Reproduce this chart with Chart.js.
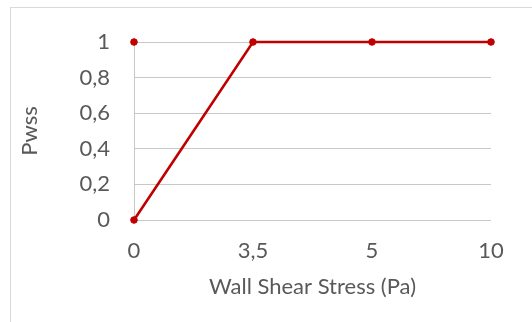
<!DOCTYPE html>
<html><head><meta charset="utf-8">
<script src="https://cdn.jsdelivr.net/npm/chart.js@4/dist/chart.umd.min.js"></script>
<style>
html,body{margin:0;padding:0;background:#fff;}
#frame{position:absolute;left:10px;top:7px;width:540px;height:330px;border:1px solid #d9d9d9;box-sizing:border-box;}
#wrap{position:absolute;left:0;top:0;width:532px;height:322px;}
</style></head>
<body>
<div id="frame"></div>
<div id="wrap"><canvas id="c" width="532" height="322"></canvas></div>
<script>
const categories = ["0", "3,5", "5", "10"];
const pwssValues = [0, 1, 1, 1];
const extraPoint = [1, null, null, null];
const yTickValues = [0, 0.2, 0.4, 0.6, 0.8, 1];
const xTitle = "Wall Shear Stress (Pa)";
const yTitle = "Pwss";

const FONT = "Lato, 'Open Sans', sans-serif";
const TEXT = "#595959";
const RED = "#c00000";

new Chart(document.getElementById('c'), {
  type: 'line',
  data: {
    labels: categories,
    datasets: [
      {data: pwssValues, borderColor: RED, backgroundColor: RED, borderWidth: 2.6, clip: false,
       pointRadius: 3.3, pointBorderWidth: 1, pointBackgroundColor: RED, pointBorderColor: RED, tension: 0},
      {data: extraPoint, showLine: false, borderColor: RED, backgroundColor: RED, clip: false,
       pointRadius: 3.3, pointBorderWidth: 1, pointBackgroundColor: RED, pointBorderColor: RED}
    ]
  },
  options: {
    responsive: false,
    animation: false,
    layout: {padding: {left: 17, right: 41, top: 42, bottom: 22}},
    plugins: {legend: {display: false}, tooltip: {enabled: false}},
    scales: {
      x: {
        offset: false,
        grid: {display: false, drawTicks: false},
        border: {display: false},
        ticks: {color: TEXT, font: {family: FONT, size: 22}, padding: 18, maxRotation: 0},
        title: {display: true, text: xTitle, color: TEXT, font: {family: FONT, size: 22}, padding: {top: 4, bottom: 0}},
        afterFit: s => { s.height = 80; }
      },
      y: {
        min: 0, max: 1,
        afterBuildTicks: s => { s.ticks = yTickValues.map(v => ({value: v})); },
        grid: {color: "#c8c8c8", lineWidth: 1, drawTicks: false},
        border: {display: true, color: "#c8c8c8", width: 1},
        ticks: {color: TEXT, font: {family: FONT, size: 22}, padding: 24,
          callback: v => String(v).replace('.', ',')},
        title: {display: true, text: yTitle, color: TEXT, font: {family: FONT, size: 22}, padding: {top: 0, bottom: 0}},
        afterFit: s => { s.width = 117; }
      }
    }
  }
});
</script>
</body></html>
